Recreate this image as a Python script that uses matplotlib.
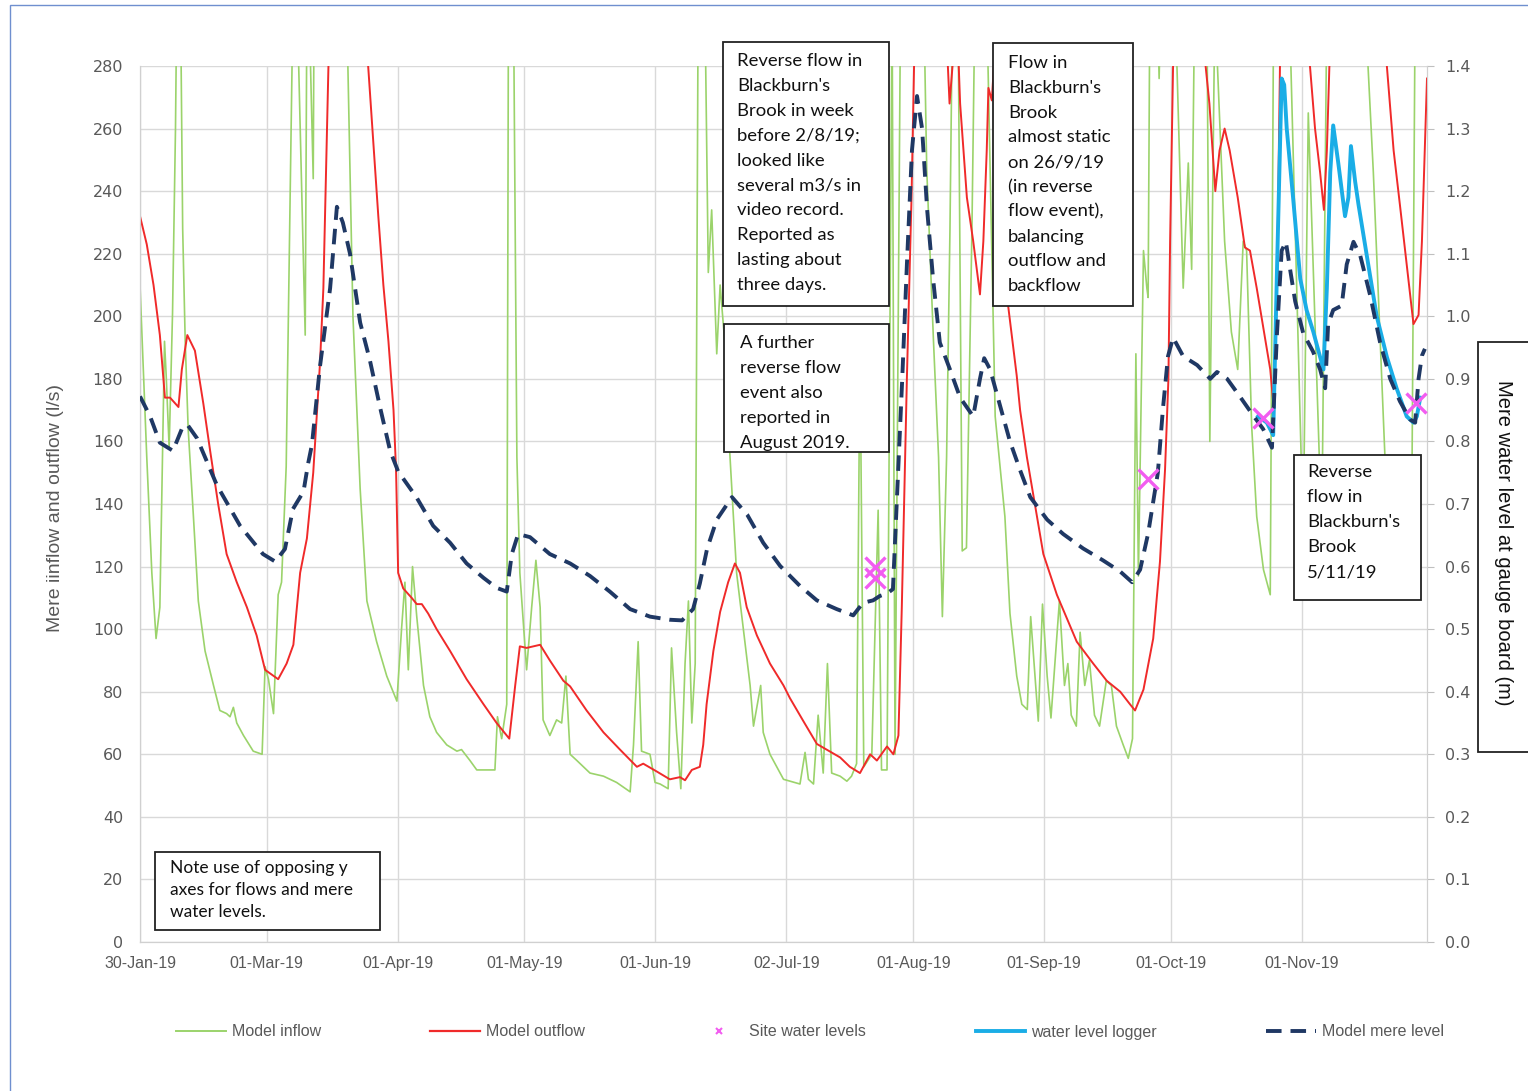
import matplotlib
matplotlib.use('Agg')
import matplotlib.pyplot as plt
import matplotlib.dates as mdates
from matplotlib.lines import Line2D
from matplotlib.patches import Rectangle
import numpy as np
import pandas as pd

# days after 30-Jan-19 (300+ = off the top)
inflow_day = [0, 1.6, 2.8, 3.8, 4.7, 5.8, 6.2, 6.9, 7.7, 8.4, 8.7, 9.6, 10.1, 10.7, 11.4, 12.6, 13.8,
              15.4, 17.4, 18.9, 20.5, 21.3, 22.1, 22.9, 24.5, 26.8, 28.9, 29.6, 30.4, 31.6, 32.7,
              33.5, 34.6, 36.2, 37.2, 39.1, 39.5, 40.0, 41.0, 41.2, 48.9, 50.4, 52.1, 53.7, 56.0,
              58.4, 60.8, 61.9, 62.7, 63.5, 64.5, 65.5, 67.1, 68.6, 70.2, 72.6, 75.0, 76.1, 78.1,
              79.7, 82.1, 84.0, 84.6, 85.6, 86.8, 87.2, 88.4, 89.2, 89.9, 91.5, 92.7, 93.7, 94.7,
              95.4, 97.0, 98.6, 99.8, 100.8, 101.8, 103.4, 106.5, 109.7, 112.8, 116.0, 116.8,
              117.9, 118.7, 120.7, 121.9, 123.1, 125.0, 125.8, 127.0, 128.0, 129.0, 129.8, 130.6,
              131.4, 132.1, 133.7, 134.5, 135.3, 136.5, 137.3, 138.5, 139.6, 141.2, 142.8, 144.4,
              145.2, 146.9, 147.5, 149.1, 152.3, 156.2, 157.4, 158.2, 159.4, 160.5, 161.7, 162.7,
              163.7, 165.7, 167.3, 168.4, 169.6, 170.4, 171.3, 173.2, 174.7, 175.5, 176.8, 178.0,
              178.7, 180.0, 185.5, 186.2, 187.8, 189.0, 189.9, 190.9, 191.7, 192.3, 193.6, 194.6,
              195.6, 196.9, 197.6, 200.4, 202.4, 204.7, 205.9, 207.5, 208.7, 210.0, 210.8, 212.0,
              212.6, 213.6, 214.7, 215.6, 217.6, 218.8, 219.6, 220.4, 221.6, 222.5, 223.6, 224.7,
              225.9, 227.1, 228.7, 229.9, 231.1, 232.7, 233.9, 234.9, 235.7, 236.3, 237.5, 238.3,
              238.6, 239.0, 240.8, 241.2, 241.6, 245.0, 246.9, 248.1, 248.9, 249.6, 252.5, 253.2,
              254.4, 256.7, 258.3, 259.8, 261.1, 261.9, 263.1, 264.3, 265.9, 267.5, 268.3, 272.0,
              275.3, 276.5, 279.7, 280.9, 289.9, 291.9, 295.1, 301.0, 301.8, 304.6]
inflow = [210, 155, 118, 97, 107, 192, 181, 158, 201, 260, 300, 300, 228, 192, 164, 137, 109,
          93, 82, 74, 73, 72, 75, 70, 66, 61, 60, 88, 84, 73, 111,
          115, 152, 300, 300, 194, 300, 300, 244, 300, 300, 200, 145, 109, 96,
          85, 77, 100, 115, 87, 120, 104, 82, 72, 67, 63, 61, 61.5, 58,
          55, 55, 55, 72, 65, 76, 300, 300, 155, 118, 87, 107, 122, 107,
          71, 66, 71, 70, 85, 60, 58, 54, 53, 51, 48, 63,
          96, 61, 60, 51, 50.5, 49, 94, 67, 49, 89, 109, 70,
          89, 300, 300, 214, 234, 188, 210, 190, 156, 118, 100, 82,
          69, 82, 67, 60, 52, 50.5, 60.6, 52, 50.5, 72.5, 54, 89,
          54, 53, 51.4, 53, 57, 190, 56, 60, 138, 55, 55, 300,
          60, 300, 300, 247, 192, 155, 104, 155, 228, 300, 300, 125,
          126, 228, 300, 300, 168, 136, 105, 85, 76, 74.3, 104, 82,
          70.6, 108, 85, 71.6, 109, 82, 89, 72.5, 69, 99, 82, 90,
          72.5, 69, 83.5, 82, 69, 63, 58.7, 65, 188, 117, 221, 209,
          206, 300, 300, 276, 300, 300, 209, 249, 215, 300, 300, 160,
          300, 224, 195, 183, 224, 221, 165, 136, 119, 111, 300, 300,
          130, 265, 130, 300, 300, 246, 140, 140, 300, 300]

outflow_day = [0, 1.6, 3.2, 4.7, 5.9, 7.1, 9.1, 9.9, 11.2, 13.0, 15.0, 16.6, 18.5, 20.5, 22.9,
               25.3, 27.6, 29.6, 32.7, 34.7, 36.3, 37.9, 39.5, 41.0, 42.6, 43.4, 44.6, 47.0,
               51.0, 54.0, 55.2, 56.4, 57.6, 58.8, 60.0, 60.6, 61.1, 62.3, 64.3, 65.5, 66.7,
               68.2, 70.2, 73.4, 77.3, 81.3, 84.4, 87.4, 88.8, 89.9, 91.5, 94.7, 97.0, 100.2,
               101.8, 105.7, 109.7, 113.6, 117.6, 119.1, 122.3, 125.4, 127.8, 129.0, 130.6,
               132.5, 133.3, 134.1, 135.7, 137.3, 139.2, 140.8, 142.0, 143.6, 146.0, 149.1,
               152.3, 153.8, 157.0, 160.2, 162.5, 165.7, 168.0, 170.4, 172.8, 174.4, 176.8,
               178.3, 179.5, 180.3, 181.5, 182.6, 183.2, 186.0, 190.0, 191.2, 191.6, 192.3,
               193.5, 194.1, 195.7, 197.2, 198.8, 199.6, 200.4, 200.8, 201.6, 203.0, 205.5,
               207.5, 208.3, 209.9, 213.8, 217.0, 221.7, 225.6, 228.8, 232.0, 234.3, 235.5,
               237.5, 239.8, 241.4, 242.6, 243.4, 243.8, 244.5, 248.0, 252.2, 253.1, 254.5,
               255.5, 256.7, 257.9, 259.8, 261.5, 262.7, 264.3, 265.9, 267.5, 268.3, 269.1,
               269.8, 273.0, 276.9, 278.1, 279.3, 280.2, 280.9, 281.5, 288.0, 295.1, 296.7,
               298.2, 299.8, 301.4, 302.6, 303.4, 304.6]
outflow = [232, 223, 210, 194, 174, 174, 171, 183, 194, 189, 172, 157, 140, 124, 115,
           107, 98, 87, 84, 89, 95, 118, 129, 150, 185, 209, 280, 330,
           330, 280, 256, 232, 210, 192, 170, 151, 118, 113, 110, 108, 108,
           105, 100, 93, 84, 76, 70, 65, 82, 94.5, 94, 95, 90, 83.5,
           81.7, 74, 67, 61.5, 56, 57, 54.5, 52, 52.7, 51.7, 55,
           56, 63, 76, 93, 105.5, 115, 121, 118, 107, 98, 89,
           82, 78, 70.6, 63.3, 61.5, 59, 56, 54, 60, 58, 62.5,
           60, 66, 107, 180, 238, 280, 330, 300, 280, 268, 280,
           290, 268, 238, 224, 207, 224, 253, 273, 269, 300, 203,
           181, 170, 155, 124, 111, 96, 89, 83.5, 80, 76, 74,
           80.7, 97, 121.6, 151, 180, 224, 280, 330, 280, 268, 240,
           253, 260, 253, 238, 222, 221, 209, 196, 183, 171, 209,
           280, 320, 280, 260, 246, 234, 253, 280, 330, 280, 253,
           235.5, 216.5, 197.5, 200.4, 224, 276]

# mere levels (m), right axis
site_day = [174.0, 174.0, 238.6, 265.8, 301.9]
site_level = [0.599, 0.582, 0.740, 0.837, 0.862]

logger_day = [264.6, 266.7, 268.2, 269.1, 270.2, 270.8, 271.4, 272.9, 274.6, 276.1, 277.7,
              280.1, 280.9, 281.7, 282.4, 283.6, 285.2, 286.0, 286.6, 287.6, 288.4, 290.4,
              292.7, 295.1, 297.4, 299.8, 301.4, 302.2, 303.0]
logger_level = [0.840, 0.830, 0.810, 1.075, 1.380, 1.370, 1.300, 1.190, 1.060, 1.010, 0.975,
                0.915, 1.045, 1.230, 1.305, 1.245, 1.160, 1.190, 1.272, 1.215, 1.178, 1.095,
                1.000, 0.935, 0.885, 0.840, 0.830, 0.840, 0.870]

mere_day = [0, 2.4, 4.7, 7.8, 10.2, 11.4, 13.5, 18.2, 23.7, 29.1, 32.0, 34.3, 36.2, 38.7,
            39.8, 40.7, 42.6, 45.0, 46.6, 48.0, 49.7, 52.1, 54.4, 56.8, 59.2, 61.1, 65.5,
            69.4, 73.4, 77.3, 81.3, 84.4, 86.8, 88.0, 89.5, 92.3, 97.0, 101.8, 106.5, 111.2,
            116.0, 120.7, 125.4, 128.3, 130.9, 132.5, 134.2, 136.5, 140.1, 143.7, 147.5,
            151.5, 156.2, 160.2, 164.9, 168.8, 171.1, 173.5, 175.1, 176.8, 178.2, 179.2,
            180.4, 181.5, 182.7, 183.9, 185.1, 186.3, 187.7, 189.3, 191.7, 194.1, 197.2,
            198.8, 199.8, 201.2, 203.6, 205.9, 208.3, 210.7, 214.7, 218.5, 223.2, 227.9,
            232.0, 234.8, 236.7, 238.6, 240.9, 242.1, 243.3, 244.5, 246.9, 250.2, 253.3,
            254.9, 257.3, 260.4, 263.4, 265.8, 267.9, 269.1, 270.2, 271.2, 272.2, 273.4,
            275.3, 277.6, 279.3, 280.5, 281.2, 282.4, 284.4, 285.6, 287.2, 288.8, 291.2,
            293.5, 295.9, 298.2, 300.6, 301.8, 302.6, 303.4, 304.1]
mere_level = [0.872, 0.840, 0.798, 0.785, 0.825, 0.825, 0.805, 0.730, 0.665, 0.620, 0.608,
              0.628, 0.692, 0.720, 0.765, 0.795, 0.920, 1.045, 1.175, 1.150, 1.100, 0.990,
              0.930, 0.855, 0.785, 0.752, 0.710, 0.665, 0.638, 0.605, 0.582, 0.566, 0.560,
              0.620, 0.652, 0.647, 0.620, 0.605, 0.585, 0.560, 0.532, 0.520, 0.515, 0.514,
              0.532, 0.573, 0.628, 0.675, 0.711, 0.683, 0.638, 0.601, 0.569, 0.546, 0.532,
              0.522, 0.542, 0.546, 0.553, 0.557, 0.564, 0.717, 0.900, 1.082, 1.265, 1.352,
              1.300, 1.170, 1.060, 0.958, 0.915, 0.870, 0.840, 0.900, 0.933, 0.915, 0.856,
              0.800, 0.754, 0.711, 0.675, 0.652, 0.629, 0.610, 0.592, 0.575, 0.595, 0.653,
              0.750, 0.852, 0.936, 0.966, 0.936, 0.922, 0.900, 0.911, 0.900, 0.871, 0.842,
              0.820, 0.790, 0.973, 1.105, 1.119, 1.075, 1.024, 0.973, 0.944, 0.915, 0.885,
              0.987, 1.010, 1.017, 1.083, 1.119, 1.097, 1.032, 0.958, 0.900, 0.864, 0.835,
              0.830, 0.900, 0.937, 0.948]

start = pd.Timestamp('2019-01-30')
def to_dates(days):
    return start + pd.to_timedelta(np.array(days), unit='D')

tick_dates = ['2019-01-30', '2019-03-01', '2019-04-01', '2019-05-01', '2019-06-01',
              '2019-07-02', '2019-08-01', '2019-09-01', '2019-10-01', '2019-11-01']

W, H = 1528, 1091
grey = '#595959'
fig = plt.figure(figsize=(W / 100, H / 100), dpi=100)
ax = fig.add_axes([140 / W, 1 - 942 / H, (1427 - 140) / W, (942 - 66) / H])
ax2 = ax.twinx()

ax.plot(to_dates(inflow_day), inflow, color='#9bd36b', lw=1.2, zorder=2)
ax.plot(to_dates(outflow_day), outflow, color='#f02a2a', lw=1.4, zorder=3)
ax2.plot(to_dates(logger_day), logger_level, color='#1aade6', lw=2.8, zorder=3)
ax2.plot(to_dates(mere_day), mere_level, color='#1f3864', lw=2.8, dashes=(4, 2.3), zorder=4)
ax2.plot(to_dates(site_day), site_level, ls='none', marker='x', ms=15, mew=2.4,
         color='#f25cf0', zorder=5)

ax.set_ylim(0, 280)
ax2.set_ylim(0, 1.4)
ax.set_xlim(start, start + pd.Timedelta(days=304.6))
ax.set_yticks(np.arange(0, 281, 20))
ax2.set_yticks(np.arange(0, 1.41, 0.1))
ax2.set_yticklabels(['%.1f' % v for v in np.arange(0, 1.41, 0.1)])
ax.set_xticks(pd.to_datetime(tick_dates))
ax.xaxis.set_major_formatter(mdates.DateFormatter('%d-%b-%y'))

ax.grid(True, color='#d9d9d9', lw=1)
ax.set_axisbelow(True)
for a in (ax, ax2):
    for s in a.spines.values():
        s.set_color('#d0d0d0')
    a.spines['top'].set_visible(False)
ax.tick_params(axis='y', length=0, pad=12, labelsize=11.5, labelcolor=grey)
ax.tick_params(axis='x', length=0, pad=10, labelsize=11.5, labelcolor=grey)
ax2.tick_params(axis='y', length=5, color='#bfbfbf', pad=8, labelsize=11.5, labelcolor=grey)
for lab in ax.get_yticklabels() + ax2.get_yticklabels():
    lab.set_family('DejaVu Sans')
for lab in ax.get_xticklabels():
    lab.set_family('Liberation Sans')

fig.text(56 / W, 1 - 508 / H, 'Mere iinflow and outflow (l/s)', rotation=90, ha='center',
         va='center', fontsize=14, color=grey, family='Liberation Sans')

def px(x, y):
    return x / W, 1 - y / H

def box(x0, y0, x1, y1):
    fig.add_artist(Rectangle(px(x0, y1), (x1 - x0) / W, (y1 - y0) / H, transform=fig.transFigure,
                             facecolor='white', edgecolor='#222222', lw=1.3, zorder=10))

def note(x, y, lines, step, size=13.3):
    for i, t in enumerate(lines):
        fig.text(*px(x, y + i * step), t, ha='left', va='center', fontsize=size,
                 family='Lato', color='#111111', zorder=11)

box(723, 42, 889, 306)
note(737, 61, ["Reverse flow in", "Blackburn's", "Brook in week", "before 2/8/19;",
               "looked like", "several m3/s in", "video record.", "Reported as",
               "lasting about", "three days."], 24.9)
box(724, 324, 889, 452)
note(740, 343, ["A further", "reverse flow", "event also", "reported in", "August 2019."], 25)
box(993, 43, 1133, 306)
note(1008, 63, ["Flow in", "Blackburn's", "Brook", "almost static", "on 26/9/19",
                "(in reverse", "flow event),", "balancing", "outflow and", "backflow"], 24.8)
box(1294, 455, 1421, 600)
note(1307, 472, ["Reverse", "flow in", "Blackburn's", "Brook", "5/11/19"], 25)
box(155, 852, 380, 930)
note(170, 868, ["Note use of opposing y", "axes for flows and mere", "water levels."], 22,
     size=12.5)

box(1478, 342, 1540, 752)
fig.text(*px(1503, 543), 'Mere water level at gauge board (m)', rotation=270, ha='center',
         va='center', fontsize=14.5, color='#111111', family='Liberation Sans', zorder=11)

# outer frame
fig.add_artist(Rectangle(px(10, 1100), 1540 / W, 1095 / H, transform=fig.transFigure,
                         facecolor='none', edgecolor='#6f8fcf', lw=1, zorder=0))

handles = [Line2D([], [], color='#9bd36b', lw=1.4),
           Line2D([], [], color='#f02a2a', lw=1.6),
           Line2D([], [], ls='none', marker='x', ms=4, mew=1.5, color='#f25cf0'),
           Line2D([], [], color='#1aade6', lw=2.8),
           Line2D([], [], color='#1f3864', lw=2.8, dashes=(4, 2.3))]
labels = ['Model inflow', 'Model outflow', 'Site water levels', 'water level logger',
          'Model mere level']
leg = fig.legend(handles, labels, loc='center', bbox_to_anchor=(810 / W, 1 - 1032 / H), ncol=5,
                 frameon=False, handlelength=3.1, handletextpad=0.37, columnspacing=6.85,
                 prop={'family': 'Liberation Sans', 'size': 11.5})
for t in leg.get_texts():
    t.set_color(grey)

fig.savefig('out.png', dpi=100)
